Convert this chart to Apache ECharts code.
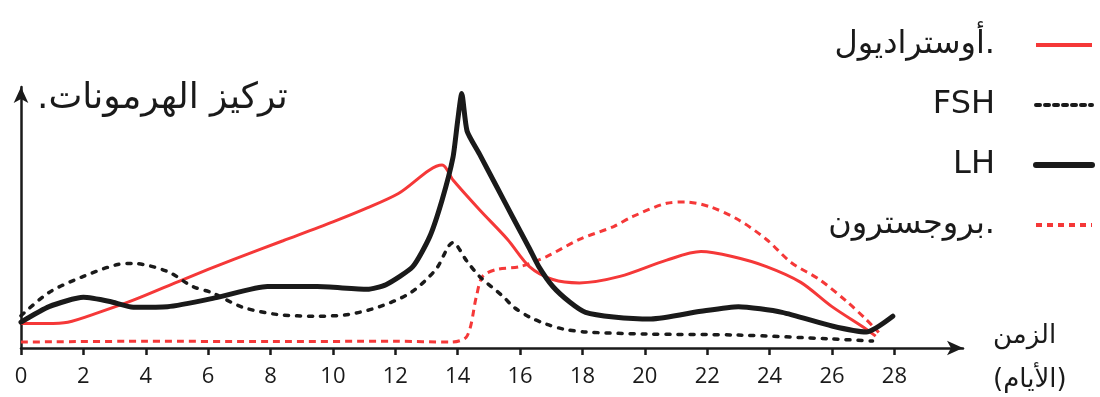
<!DOCTYPE html>
<html>
<head>
<meta charset="utf-8">
<script src="https://cdn.jsdelivr.net/npm/echarts@6/dist/echarts.min.js"></script>
<style>
  html, body { margin: 0; padding: 0; background: #fff; }
  #chart { width: 1100px; height: 397px; }
</style>
</head>
<body>
<div id="chart"></div>
<script>
// days on the x axis (tick labels)
const dayTicks = [0, 2, 4, 6, 8, 10, 12, 14, 16, 18, 20, 22, 24, 26, 28];

// series names, same order as the legend
const names = ['أوستراديول.', 'FSH', 'LH', 'بروجسترون.'];

// [day, concentration]
const estradiol = [
  [0, 9.5], [0.8, 9.5], [1.5, 10], [2.5, 13.8], [3.6, 18.5], [5.2, 26.5], [6.8, 34.2],
  [8.4, 41.5], [10, 48.8], [11.1, 54.2], [12.1, 59.8], [13.5, 70.8], [13.85, 65],
  [14.7, 53.5], [15.6, 42], [16.3, 31.5], [17.05, 26.5], [17.9, 25.2], [19.2, 27.7],
  [20.7, 34], [21.8, 37.3], [22.8, 35.4], [23.9, 31.5], [25, 25.4], [26, 16],
  [27.1, 7.3], [27.4, 4.6]
];
const fsh = [
  [0, 12.5], [0.9, 21.5], [2, 27.7], [3.1, 32.3], [3.6, 32.7], [4.7, 29.6],
  [5.5, 23.8], [6.1, 21.5], [7.1, 15.8], [8.2, 13], [9.5, 12.3], [10.5, 13],
  [11.5, 16], [12.5, 21.5], [13.3, 30.4], [13.85, 40.8], [14.3, 33.5], [14.7, 27.7],
  [15.45, 20], [15.8, 15.8], [16.3, 12], [16.85, 9.2], [17.4, 7.3], [18.1, 6.2],
  [20, 5.4], [23, 5], [26, 3.5], [27.3, 2.7]
];
const lh = [
  [0, 10], [0.9, 16], [2, 19.6], [2.85, 18], [3.6, 15.8], [4.7, 16], [6.3, 19.6],
  [7.9, 23.8], [9.5, 23.8], [11.1, 22.7], [11.7, 24.5], [12.56, 31.5], [13.1, 43],
  [13.5, 57.3], [13.85, 73.8], [14.0, 88], [14.13, 98.5], [14.3, 84], [14.7, 75],
  [15.26, 62.2], [15.77, 50.5], [16.3, 38.5], [16.6, 31.5], [17.05, 23.8],
  [17.6, 17.7], [18.1, 13.8], [19, 12], [20.2, 11.2], [21.8, 14.2], [23, 16],
  [24.4, 13.8], [26, 8.5], [27.1, 6.2], [27.95, 12.3]
];
const progesterone = [
  [0, 2.3], [4, 2.6], [8, 2.5], [12, 2.6], [13.8, 2.3], [14.3, 4.6], [14.6, 20],
  [14.8, 27.7], [15.25, 30.4], [16, 31.5], [16.85, 35.4], [17.9, 42], [19, 47],
  [19.6, 50.8], [20.7, 56], [21.3, 56.5], [22.1, 54.6], [23, 49.6], [23.9, 42],
  [24.7, 33], [25.6, 26.5], [26.5, 17.7], [27.1, 11], [27.5, 6]
];

const red = '#f53838';
const ink = '#1a1a1a';
const arabicFont = '"DejaVu Sans", "Noto Sans", sans-serif';

const myChart = echarts.init(document.getElementById('chart'));

myChart.setOption({
  backgroundColor: '#fff',
  animation: false,
  title: {
    text: '.تركيز الهرمونات',
    left: 32,
    top: 76,
    textStyle: { fontFamily: arabicFont, fontSize: 36, fontWeight: 'normal', color: ink }
  },
  legend: {
    orient: 'vertical',
    align: 'right',
    right: 0,
    top: 23,
    itemWidth: 56,
    itemHeight: 14,
    itemGap: 26,
    itemStyle: { opacity: 0 },
    data: [
      { name: names[0], lineStyle: { width: 4 } },
      { name: names[1], lineStyle: { width: 4, type: [4, 5] } },
      { name: names[2], lineStyle: { width: 6 } },
      { name: names[3], lineStyle: { width: 4, type: [6, 5] } }
    ],
    textStyle: {
      fontFamily: arabicFont, fontSize: 32, lineHeight: 34, color: ink,
      padding: [0, 36, 0, 0]
    }
  },
  grid: {
    left: 21, right: 137, top: 87, bottom: 49,
    containLabel: false, outerBoundsMode: 'none'
  },
  xAxis: {
    type: 'value',
    min: 0,
    max: 30.2,
    interval: 2,
    name: 'الزمن\n(الأيام)',
    nameLocation: 'end',
    nameGap: 30,
    nameTextStyle: {
      fontFamily: arabicFont, fontSize: 26, color: ink, lineHeight: 44,
      align: 'left', verticalAlign: 'top', padding: [-34, 0, 0, 0]
    },
    splitLine: { show: false },
    axisLine: {
      lineStyle: { color: ink, width: 2.5 },
      symbol: ['none', 'arrow'],
      symbolSize: [11, 16]
    },
    axisTick: {
      customValues: dayTicks,
      length: 7,
      lineStyle: { color: ink, width: 2.5 }
    },
    axisLabel: {
      customValues: dayTicks,
      margin: 18,
      fontFamily: '"Open Sans", sans-serif',
      fontSize: 22,
      color: ink
    }
  },
  yAxis: {
    type: 'value',
    min: 0,
    max: 101,
    splitLine: { show: false },
    axisTick: { show: false },
    axisLabel: { show: false },
    axisLine: {
      show: true,
      lineStyle: { color: ink, width: 2.5 },
      symbol: ['none', 'arrow'],
      symbolSize: [11, 16]
    }
  },
  series: [
    {
      name: names[0], type: 'line', data: estradiol, smooth: 0.3,
      symbol: 'none', color: red, z: 2,
      lineStyle: { color: red, width: 3 }
    },
    {
      name: names[1], type: 'line', data: fsh, smooth: 0.3,
      symbol: 'none', color: ink, z: 3,
      lineStyle: { color: ink, width: 3.5, type: [4, 8], cap: 'round' }
    },
    {
      name: names[2], type: 'line', data: lh, smooth: 0.2,
      symbol: 'none', color: ink, z: 4,
      lineStyle: { color: ink, width: 5, cap: 'round', join: 'round' }
    },
    {
      name: names[3], type: 'line', data: progesterone, smooth: 0.3,
      symbol: 'none', color: red, z: 1,
      lineStyle: { color: red, width: 3, type: [7, 5] }
    }
  ]
});
</script>
</body>
</html>
